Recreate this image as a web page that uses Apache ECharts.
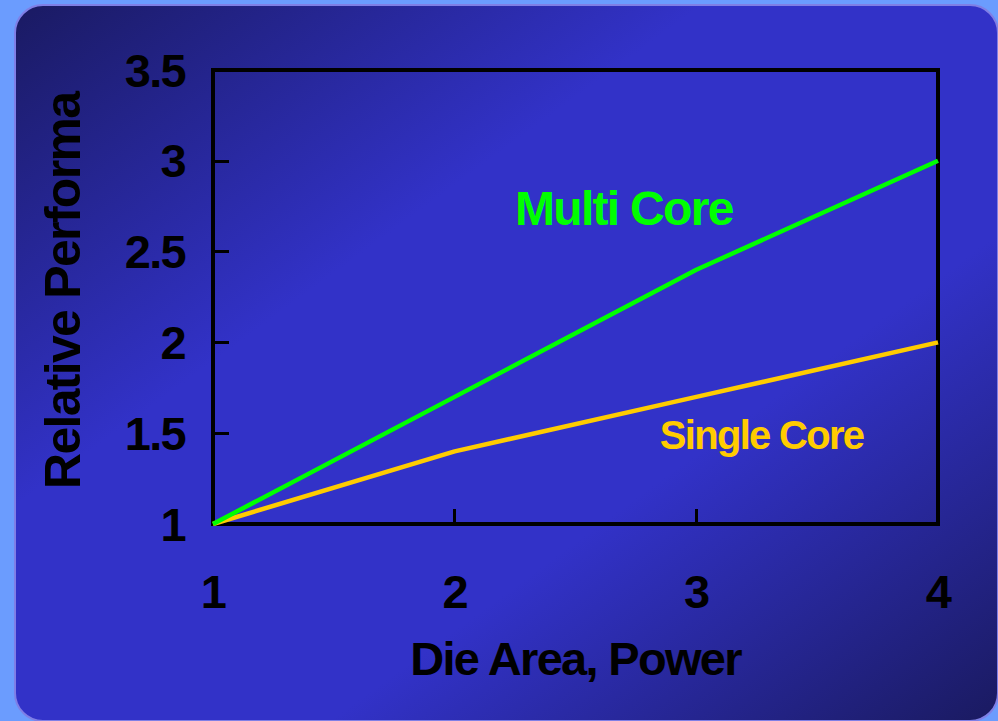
<!DOCTYPE html>
<html>
<head>
<meta charset="utf-8">
<script src="https://cdn.jsdelivr.net/npm/echarts@6/dist/echarts.min.js"></script>
<style>
  html, body { margin: 0; padding: 0; background: #6b9cfe; }
  #chart { width: 998px; height: 721px; }
  #chart svg text { letter-spacing: -1.7px; }
</style>
</head>
<body>
<div id="chart"></div>
<script>
// ---- data ----
var xValues = [1, 2, 3, 4];
var multiCore = [1, 1.7, 2.4, 3.0];
var singleCore = [1, 1.4, 1.7, 2.0];
var xTicks = [1, 2, 3, 4];
var yTicks = [1, 1.5, 2, 2.5, 3, 3.5];
var seriesNames = ['Multi Core', 'Single Core'];
var labelCoords = [[2.70, 2.74], [3.27, 1.49]];
var xTitle = 'Die Area, Power';
var yTitle = 'Relative Performa';

var FONT = '"Liberation Sans", Arial, sans-serif';

function pairs(xs, ys) { return xs.map(function (x, i) { return [x, ys[i]]; }); }

var chart = echarts.init(document.getElementById('chart'), null, { renderer: 'svg' });

var option = {
  backgroundColor: '#6b9cfe',
  animation: false,
  graphic: [
    {
      type: 'rect', z: -100, silent: true,
      shape: { x: 15, y: 5, width: 983, height: 716, r: 28 },
      style: {
        fill: {
          type: 'linear', x: 0, y: 0, x2: 1, y2: 1,
          colorStops: [
            { offset: 0, color: '#1a1a62' },
            { offset: 0.35, color: '#3232c8' },
            { offset: 0.66, color: '#3232c8' },
            { offset: 1, color: '#1a1a60' }
          ]
        },
        stroke: '#7f7fe6', lineWidth: 2
      }
    },
    {
      type: 'text', z: 10, silent: true,
      x: 63, y: 489, rotation: Math.PI / 2,
      style: {
        text: yTitle, fill: '#000', font: 'bold 50px ' + FONT,
        align: 'left', verticalAlign: 'middle'
      }
    }
  ],
  grid: {
    left: 213, right: 60, top: 70, bottom: 197,
    show: true, borderColor: '#000', borderWidth: 4, backgroundColor: 'transparent'
  },
  xAxis: {
    type: 'value', min: 1, max: 4, interval: 1,
    name: xTitle, nameLocation: 'middle', nameGap: 111,
    nameTextStyle: { color: '#000', fontSize: 47, fontWeight: 'bold', fontFamily: FONT },
    axisLine: { show: true, lineStyle: { color: '#000', width: 4 } },
    axisTick: { show: true, inside: true, length: 15, lineStyle: { color: '#000', width: 3 } },
    splitLine: { show: false },
    axisLabel: {
      color: '#000', fontSize: 47, fontWeight: 'bold', fontFamily: FONT, margin: 44,
      customValues: xTicks
    }
  },
  yAxis: {
    type: 'value', min: 1, max: 3.5, interval: 0.5,
    axisLine: { show: true, lineStyle: { color: '#000', width: 4 } },
    axisTick: { show: true, inside: true, length: 16, lineStyle: { color: '#000', width: 3 } },
    splitLine: { show: false },
    axisLabel: {
      color: '#000', fontSize: 47, fontWeight: 'bold', fontFamily: FONT, margin: 28,
      customValues: yTicks
    }
  },
  series: [
    {
      name: seriesNames[0], type: 'line', data: pairs(xValues, multiCore),
      showSymbol: false, symbol: 'none',
      lineStyle: { color: '#00ff00', width: 4.5 }, z: 5,
      markPoint: {
        symbol: 'circle', symbolSize: 0, silent: true,
        data: [{ coord: labelCoords[0] }],
        label: {
          show: true, position: 'inside', formatter: seriesNames[0],
          color: '#00ff00', fontSize: 48, fontWeight: 'bold', fontFamily: FONT
        }
      }
    },
    {
      name: seriesNames[1], type: 'line', data: pairs(xValues, singleCore),
      showSymbol: false, symbol: 'none',
      lineStyle: { color: '#ffcc00', width: 4.5 }, z: 4,
      markPoint: {
        symbol: 'circle', symbolSize: 0, silent: true,
        data: [{ coord: labelCoords[1] }],
        label: {
          show: true, position: 'inside', formatter: seriesNames[1],
          color: '#ffcc00', fontSize: 40, fontWeight: 'bold', fontFamily: FONT
        }
      }
    }
  ]
};
chart.setOption(option);
</script>
</body>
</html>
